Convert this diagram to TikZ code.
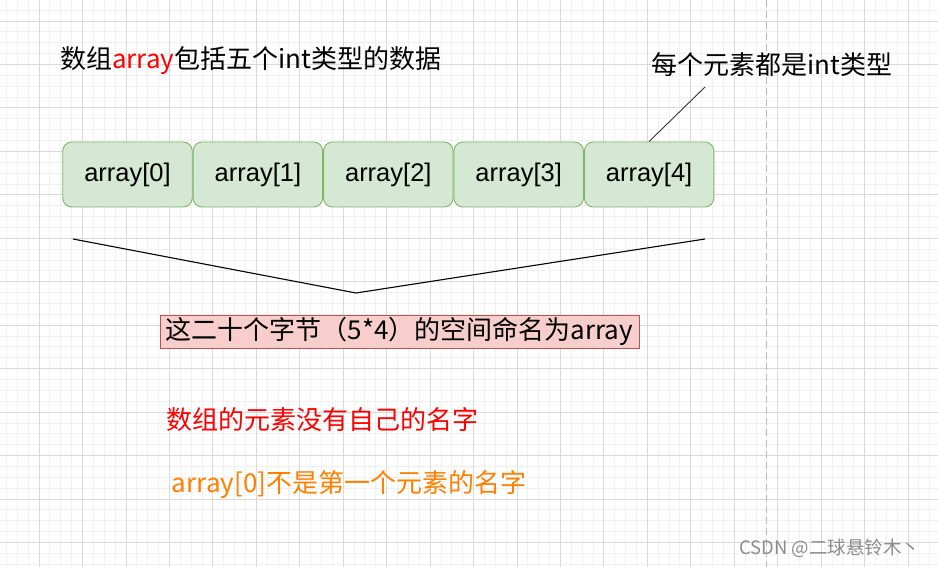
\documentclass[tikz,border=0pt]{standalone}
\usepackage{fontspec}
\setmainfont{Liberation Sans}
\newfontfamily\cjk{Noto Sans CJK SC}
\usetikzlibrary{positioning}
\definecolor{cellfill}{HTML}{D5E8D4}
\definecolor{celldraw}{HTML}{82B366}
\definecolor{namefill}{HTML}{F8CECC}
\definecolor{namedraw}{HTML}{B85450}
\definecolor{orange}{HTML}{FF8000}
\definecolor{gridmajor}{HTML}{D9D9D9}
\definecolor{gridminor}{HTML}{F0F0F0}

\begin{document}
\begin{tikzpicture}[x=1pt,y=-1pt,
    cell/.style={draw=celldraw, fill=cellfill, rounded corners=9pt, line width=0.9pt,
      minimum width=129.5pt, minimum height=65pt, inner sep=0pt,
      font=\fontsize{25.5}{30}\selectfont},
    namebox/.style={draw=namedraw, fill=namefill, line width=0.9pt, inner sep=0pt,
      minimum width=479pt, minimum height=33pt},
    msg/.style={inner sep=0pt, font=\cjk\fontsize{26}{30}\selectfont},
    thinline/.style={black, line width=1.1pt}]
  \useasboundingbox (0,0) rectangle (938,567);
  \fill[white] (0,0) rectangle (938,567);
  % Background grid
  \foreach \i in {0,...,87}
    \draw[gridminor, line width=0.8pt] ({-4.45+\i*10.8625},0) -- ++(0,567);
  \foreach \i in {0,...,54}
    \draw[gridminor, line width=0.8pt] (0,{-22.45+\i*10.8625}) -- ++(938,0);
  \foreach \i in {0,...,22}
    \draw[gridmajor, line width=0.8pt] ({-4.45+\i*43.45},0) -- ++(0,567);
  \foreach \i in {0,...,14}
    \draw[gridmajor, line width=0.8pt] (0,{-22.45+\i*43.45}) -- ++(938,0);
  % Page break
  \draw[gray!55, line width=1pt, dash pattern=on 7pt off 4pt] (766.5,0) -- (766.5,567);
  % Title
  \node[msg, anchor=west] (title) at (60,61)
    {数组\textcolor{red}{array}包括五个int类型的数据};
  % The five cells
  \node[cell] (a0) at (127.5,174.5) {array[0]};
  \foreach \i/\j in {1/0,2/1,3/2,4/3}
    \node[cell, right=0pt of a\j] (a\i) {array[\i]};
  % Note on the last cell
  \node[msg, anchor=west] (each) at (651.5,65) {每个元素都是int类型};
  \coordinate (tip) at (705,87);
  \draw[black!80, line width=0.9pt] (tip) -- (a4.north);
  % Brace under the cells
  \coordinate (bl) at (73,239);
  \coordinate (bm) at (356,293);
  \coordinate (br) at (705,239);
  \draw[thinline] (bl) -- (bm) -- (br);
  % Name of the whole block
  \node[namebox, font=\cjk\fontsize{26}{30}\selectfont] (whole) at (399.5,331.5)
    {这二十个字节（5*4）的空间命名为array};
  % Remarks
  \node[msg, anchor=west, text=red] (noname) at (166.7,420) {数组的元素没有自己的名字};
  \node[msg, anchor=west, text=orange] (first) at (171.7,485) {array[0]不是第一个元素的名字};
  % Watermark
  \node[inner sep=0pt, anchor=west, text=black!45, font=\cjk\fontsize{18.5}{22}\selectfont]
    (mark) at (739,548) {CSDN @二球悬铃木丶};
\end{tikzpicture}
\end{document}
